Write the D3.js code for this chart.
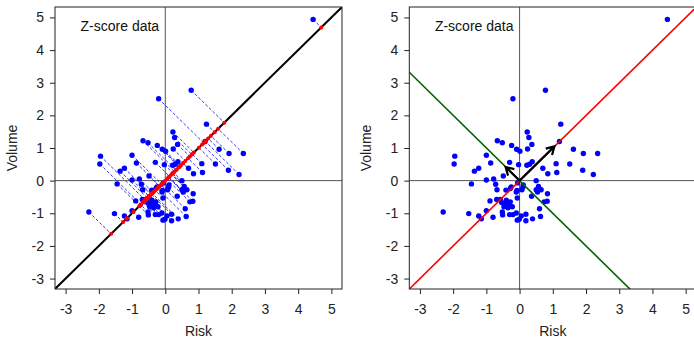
<!DOCTYPE html>
<html>
<head>
<meta charset="utf-8">
<script src="https://cdn.jsdelivr.net/npm/d3@7"></script>
<style>
  html, body { margin: 0; padding: 0; background: #fff; }
  svg { display: block; font-family: "Liberation Sans", Arial, sans-serif; }
</style>
</head>
<body>
<svg id="chart" width="694" height="338"></svg>
<script>
// Standardised (z-score) observations
const risk = [4.45, 0.78, -0.20, 1.24, 0.23, 0.28, 0.37, -0.67, -0.52, -0.24,
  -0.09, 0.01, 0.24, 1.20, 1.62, 1.92, 2.35, -1.95, -1.97, -1.00,
  -0.87, -1.23, -1.36, -0.30, -0.03, 0.22, 0.30, 0.38, 0.70, 0.85,
  1.10, 1.51, 1.90, 2.22, 1.12, -0.49, -1.00, -0.78, -1.45, -0.72,
  -0.68, 0.50, 0.11, 0.07, -0.41, -0.28, -0.08, 0.50, 0.57, 0.54,
  0.65, 0.84, -0.89, -0.69, -0.07, 0.36, -0.54, -0.42, -0.36, -0.28,
  -0.22, -0.47, -0.35, 0.83, 0.74, 0.60, -1.00, -0.80, -0.52, -0.51,
  -0.30, -0.20, -0.10, 0.05, 0.19, -0.07, -0.01, 0.19, 0.39, 0.63,
  -1.53, -1.23, -1.15, -2.30, -0.06, -0.25, -0.58, -0.40, -0.32, -0.45,
  0.10, -0.10];
const volume = [4.94, 2.77, 2.51, 1.73, 1.49, 1.32, 1.11, 1.22, 1.16, 1.08,
  0.96, 0.90, 0.97, 1.20, 0.96, 0.83, 0.83, 0.75, 0.51, 0.78,
  0.54, 0.38, 0.29, 0.56, 0.49, 0.47, 0.50, 0.58, 0.38, 0.21,
  0.52, 0.51, 0.32, 0.19, 0.25, 0.14, 0.02, 0.05, -0.10, -0.11,
  -0.28, 0.00, -0.13, -0.28, -0.29, -0.24, -0.30, -0.28, -0.18, -0.35,
  -0.28, -0.40, -0.62, -0.58, -0.53, -0.48, -0.67, -0.69, -0.75, -0.65,
  -0.80, -0.80, -0.83, -0.63, -0.65, -0.86, -0.92, -1.12, -0.96, -1.05,
  -1.04, -1.04, -0.99, -1.08, -1.03, -1.21, -1.18, -1.23, -1.17, -1.10,
  -1.01, -1.08, -1.17, -0.96, -0.07, -0.19, -0.58, -0.60, -0.72, -0.73,
  -0.20, -0.35];

const axisTicks = [-3, -2, -1, 0, 1, 2, 3, 4, 5];
const axisLimits = [-3.32, 5.32];
// principal component directions (scaled) shown as arrows
const pc1 = [1.05, 1.05];
const pc2 = [-0.42, 0.42];

const points = risk.map((r, i) => ({ x: r, y: volume[i] }));

const svg = d3.select("#chart");
const FONT = 14;
const fmt = d => String(d);   // plain hyphen-minus for negative ticks

function panel(id, left, right, top, bottom) {
  const x = d3.scaleLinear().domain(axisLimits).range([left, right]);
  const y = d3.scaleLinear().domain(axisLimits).range([bottom, top]);
  const g = svg.append("g");
  g.append("clipPath").attr("id", id)
    .append("rect").attr("x", left).attr("y", top)
    .attr("width", right - left).attr("height", bottom - top);

  const xa = g.append("g").attr("transform", `translate(0,${bottom})`)
    .call(d3.axisBottom(x).tickValues(axisTicks).tickSize(5).tickPadding(10).tickFormat(fmt));
  const ya = g.append("g").attr("transform", `translate(${left},0)`)
    .call(d3.axisLeft(y).tickValues(axisTicks).tickSize(5).tickPadding(6).tickFormat(fmt));
  [xa, ya].forEach(a => {
    a.select(".domain").remove();
    a.selectAll("line").attr("stroke", "#222");
    a.selectAll("text").attr("font-size", FONT).attr("fill", "#222")
      .attr("font-family", "Liberation Sans, Arial, sans-serif");
  });

  g.append("text").attr("x", (left + right) / 2).attr("y", 335.5)
    .attr("text-anchor", "middle").attr("font-size", FONT).attr("fill", "#222").text("Risk");
  g.append("text").attr("transform", `translate(${left - 38},${(top + bottom) / 2}) rotate(-90)`)
    .attr("text-anchor", "middle").attr("font-size", FONT).attr("fill", "#222").text("Volume");

  const plot = g.append("g").attr("clip-path", `url(#${id})`);
  // zero reference lines
  plot.append("line").attr("x1", x(0)).attr("x2", x(0)).attr("y1", top).attr("y2", bottom)
    .attr("stroke", "#555").attr("stroke-width", 1);
  plot.append("line").attr("x1", left).attr("x2", right).attr("y1", y(0)).attr("y2", y(0))
    .attr("stroke", "#555").attr("stroke-width", 1);

  g.append("text").attr("x", x(-2.55)).attr("y", y(4.6))
    .attr("font-size", FONT).attr("fill", "#111").text("Z-score data");

  return { x, y, g, plot, left, right, top, bottom };
}

function frame(p) {
  p.g.append("rect").attr("x", p.left).attr("y", p.top)
    .attr("width", p.right - p.left).attr("height", p.bottom - p.top)
    .attr("fill", "none").attr("stroke", "#222").attr("stroke-width", 1);
}

// ---- left panel: projection onto the first principal axis ----
const L = panel("clipL", 55, 342, 7, 289);
const proj = points.map(d => { const t = (d.x + d.y) / 2; return { x: t, y: t }; });

L.plot.append("g").selectAll("line").data(points).join("line")
  .attr("x1", d => L.x(d.x)).attr("y1", d => L.y(d.y))
  .attr("x2", (d, i) => L.x(proj[i].x)).attr("y2", (d, i) => L.y(proj[i].y))
  .attr("stroke", "#2020ff").attr("stroke-width", 1).attr("stroke-dasharray", "3,2")
  .attr("stroke-opacity", 0.9);
L.plot.append("line")
  .attr("x1", L.x(axisLimits[0])).attr("y1", L.y(axisLimits[0]))
  .attr("x2", L.x(axisLimits[1])).attr("y2", L.y(axisLimits[1]))
  .attr("stroke", "#000").attr("stroke-width", 2);
L.plot.append("g").selectAll("circle").data(points).join("circle")
  .attr("cx", d => L.x(d.x)).attr("cy", d => L.y(d.y)).attr("r", 2.7).attr("fill", "#0000ff");
L.plot.append("g").selectAll("circle").data(proj).join("circle")
  .attr("cx", d => L.x(d.x)).attr("cy", d => L.y(d.y)).attr("r", 2).attr("fill", "#ff0000");
frame(L);

// ---- right panel: principal axes ----
const R = panel("clipR", 409.3, 696.3, 7, 289);
R.plot.append("g").selectAll("circle").data(points).join("circle")
  .attr("cx", d => R.x(d.x)).attr("cy", d => R.y(d.y)).attr("r", 2.7).attr("fill", "#0000ff");
R.plot.append("line")
  .attr("x1", R.x(axisLimits[0])).attr("y1", R.y(axisLimits[0]))
  .attr("x2", R.x(axisLimits[1])).attr("y2", R.y(axisLimits[1]))
  .attr("stroke", "#ff0000").attr("stroke-width", 1.6);
R.plot.append("line")
  .attr("x1", R.x(axisLimits[0])).attr("y1", R.y(-axisLimits[0]))
  .attr("x2", R.x(axisLimits[1])).attr("y2", R.y(-axisLimits[1]))
  .attr("stroke", "#006400").attr("stroke-width", 1.6);

function arrow(v) {
  const x0 = R.x(0), y0 = R.y(0), x1 = R.x(v[0]), y1 = R.y(v[1]);
  const ang = Math.atan2(y1 - y0, x1 - x0);
  const len = 9, spread = Math.PI / 6;
  const h1 = [x1 - len * Math.cos(ang - spread), y1 - len * Math.sin(ang - spread)];
  const h2 = [x1 - len * Math.cos(ang + spread), y1 - len * Math.sin(ang + spread)];
  R.plot.append("path")
    .attr("d", `M${x0},${y0}L${x1},${y1}M${h1[0]},${h1[1]}L${x1},${y1}L${h2[0]},${h2[1]}`)
    .attr("fill", "none").attr("stroke", "#000").attr("stroke-width", 2.2)
    .attr("stroke-linejoin", "miter");
}
arrow(pc1);
arrow(pc2);
frame(R);
</script>
</body>
</html>
